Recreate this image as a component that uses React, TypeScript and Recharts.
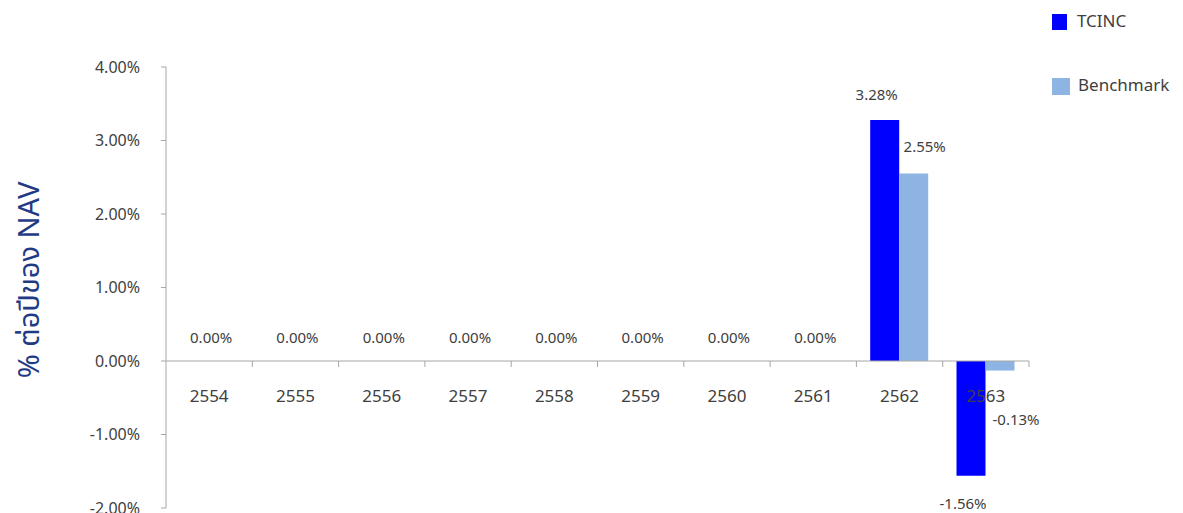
import React from 'react';
import { BarChart, Bar, XAxis, YAxis, ReferenceLine, LabelList, Legend } from 'recharts';

const years: string[] = ['2554', '2555', '2556', '2557', '2558', '2559', '2560', '2561', '2562', '2563'];
const tcinc: number[] = [0, 0, 0, 0, 0, 0, 0, 0, 3.28, -1.56];
const benchmark: number[] = [0, 0, 0, 0, 0, 0, 0, 0, 2.55, -0.13];
const yTicks: number[] = [-2, -1, 0, 1, 2, 3, 4];

const data = years.map((year, i) => ({ year, tcinc: tcinc[i], benchmark: benchmark[i] }));

const W = 1183;
const H = 513;
const LEGEND_W = 130;
const MARGIN = { top: 67, right: 154 - LEGEND_W, bottom: 4, left: 0 };
const Y_AXIS_W = 166;
const PLOT_W = W - 154 - Y_AXIS_W;
const PLOT_H = H - 67 - 5;
const Y_MIN = -2;
const Y_MAX = 4;
const ZERO_Y = 67 + (PLOT_H * Y_MAX) / (Y_MAX - Y_MIN);
const BAND = PLOT_W / years.length;

const FONT = '"Noto Sans Thai", Tahoma, "Segoe UI", "Noto Sans", sans-serif';
const TEXT = '#404040';
const AXIS = '#a6a6a6';

const fmt = (v: number) => `${v.toFixed(2)}%`;

// category label + boundary tick drawn at the zero line
const CategoryTick = (props: any) => {
    const { x, payload, index } = props;
    const zero = tcinc[index] === 0 && benchmark[index] === 0;
    return (
        <g>
            <line x1={x + BAND / 2} y1={ZERO_Y} x2={x + BAND / 2} y2={ZERO_Y + 6} stroke={AXIS} />
            <text x={x} y={ZERO_Y + 36} textAnchor="middle" dominantBaseline="central" fill={TEXT} fontSize={17} fontFamily={FONT}>
                {payload.value}
            </text>
            {zero && (
                <text x={x + 2} y={ZERO_Y - 23} textAnchor="middle" dominantBaseline="central" fill={TEXT} fontSize={15} fontFamily={FONT}>
                    {fmt(0)}
                </text>
            )}
        </g>
    );
};

const TcincLabel = (props: any) => {
    const { x, y, width, height, value } = props;
    if (!value) return null;
    const top = Math.min(y, y + height);
    const bottom = Math.max(y, y + height);
    const cy = value > 0 ? top - 24 : bottom + 29;
    return (
        <text x={x + width / 2 - 8} y={cy} textAnchor="middle" dominantBaseline="central" fill={TEXT} fontSize={15} fontFamily={FONT}>
            {fmt(value)}
        </text>
    );
};

const BenchmarkLabel = (props: any) => {
    const { x, y, width, height, value } = props;
    if (!value) return null;
    const top = Math.min(y, y + height);
    const bottom = Math.max(y, y + height);
    const cx = x + width / 2 + (value > 0 ? 11 : 16);
    const cy = value > 0 ? top - 26 : bottom + 50;
    return (
        <text x={cx} y={cy} textAnchor="middle" dominantBaseline="central" fill={TEXT} fontSize={15} fontFamily={FONT}>
            {fmt(value)}
        </text>
    );
};

const LegendBox = () => (
    <div style={{ fontFamily: FONT, fontSize: 17, color: TEXT }}>
        <div style={{ display: 'flex', alignItems: 'center', height: 24 }}>
            <span style={{ width: 15, height: 16, background: '#0000ff', marginRight: 10, display: 'inline-block' }} />
            TCINC
        </div>
        <div style={{ display: 'flex', alignItems: 'center', height: 24, marginTop: 40 }}>
            <span style={{ width: 18, height: 17, background: '#8db4e2', marginRight: 8, display: 'inline-block' }} />
            Benchmark
        </div>
    </div>
);

export default function App() {
    return (
        <div style={{ position: 'absolute', left: 0, top: 0, width: W, height: H, background: '#fff' }}>
            <BarChart width={W} height={H} data={data} margin={MARGIN} barCategoryGap="16%" barGap={0}>
                <XAxis dataKey="year" height={1} axisLine={false} tickLine={false} tick={<CategoryTick />} interval={0} />
                <YAxis
                    width={Y_AXIS_W}
                    domain={[Y_MIN, Y_MAX]}
                    ticks={yTicks}
                    interval={0}
                    tickFormatter={fmt}
                    stroke={AXIS}
                    tickSize={5}
                    tickMargin={21}
                    tick={{ fill: TEXT, fontSize: 16, fontFamily: FONT }}
                    allowDataOverflow
                    label={{
                        content: () => (
                            <text
                                x={30}
                                y={280}
                                transform="rotate(-90 30 280)"
                                textAnchor="middle"
                                dominantBaseline="central"
                                fill="#1f3b86"
                                fontSize={29}
                                fontFamily={FONT}
                            >
                                % ต่อปีของ NAV
                            </text>
                        ),
                    }}
                />
                <ReferenceLine y={0} stroke={AXIS} />
                <Legend
                    layout="vertical"
                    verticalAlign="top"
                    align="right"
                    content={<LegendBox />}
                    wrapperStyle={{ top: 10, left: 1052, width: LEGEND_W }}
                />
                <Bar dataKey="tcinc" name="TCINC" fill="#0000ff" isAnimationActive={false}>
                    <LabelList dataKey="tcinc" content={<TcincLabel />} />
                </Bar>
                <Bar dataKey="benchmark" name="Benchmark" fill="#8db4e2" isAnimationActive={false}>
                    <LabelList dataKey="benchmark" content={<BenchmarkLabel />} />
                </Bar>
            </BarChart>
        </div>
    );
}
